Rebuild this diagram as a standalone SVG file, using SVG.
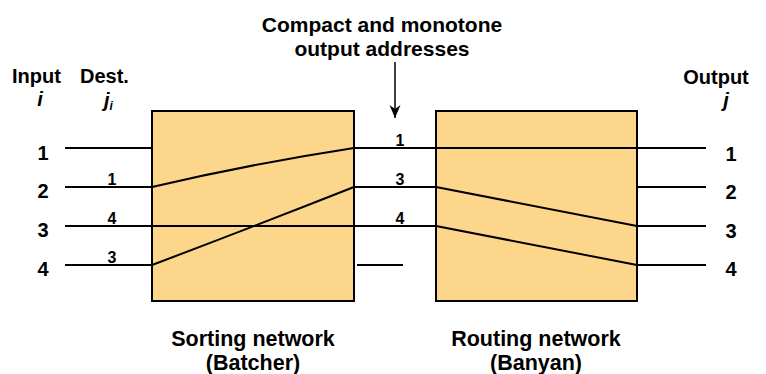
<svg xmlns="http://www.w3.org/2000/svg" width="766" height="374" viewBox="0 0 766 374">
<style>
text{font-family:"Liberation Sans",Arial,sans-serif;font-weight:bold;fill:#000}
.big{font-size:20px}
.ttl{font-size:21px}
.bot{font-size:21.5px}
.sm{font-size:16px}
.box{fill:#fcd68a;stroke:#000;stroke-width:2}
.w{stroke:#000;stroke-width:2;fill:none}
</style>
<defs><marker id="ah" markerWidth="14" markerHeight="12" refX="13" refY="6" orient="auto" markerUnits="userSpaceOnUse"><path d="M0,0.5 L13,6 L0,11.5 L4,6 Z" fill="#000"/></marker></defs>
<rect width="766" height="374" fill="#fff"/>
<g id="sorter"><rect class="box" x="152" y="111" width="202" height="190"/></g>
<g id="router"><rect class="box" x="436" y="111" width="201" height="190"/></g>
<g id="connectors">
<line class="w" x1="65" y1="148" x2="152" y2="148"/>
<line class="w" x1="65" y1="187" x2="152" y2="187"/>
<line class="w" x1="65" y1="226" x2="436" y2="226"/>
<line class="w" x1="65" y1="265" x2="152" y2="265"/>
<path class="w" d="M152,187 Q250,164 354,148"/>
<path class="w" d="M152,265 Q250,228 354,187"/>
<line class="w" x1="354" y1="148" x2="706" y2="148"/>
<line class="w" x1="354" y1="187" x2="436" y2="187"/>
<line class="w" x1="357" y1="265" x2="403" y2="265"/>
<line class="w" x1="436" y1="187" x2="637" y2="226"/>
<line class="w" x1="436" y1="226" x2="637" y2="265"/>
<line class="w" x1="637" y1="187" x2="706" y2="187"/>
<line class="w" x1="637" y1="226" x2="706" y2="226"/>
<line class="w" x1="637" y1="265" x2="706" y2="265"/>
<line x1="395" y1="62" x2="395" y2="118" stroke="#000" stroke-width="1.5" marker-end="url(#ah)"/>
</g>
<g id="labels">
<text class="ttl" x="382" y="32" text-anchor="middle">Compact and monotone</text>
<text class="ttl" x="382" y="56" text-anchor="middle">output addresses</text>
<text class="big" x="12" y="83">Input</text>
<text class="big" x="40" y="106" text-anchor="middle" font-style="italic">i</text>
<text class="big" x="80" y="83">Dest.</text>
<text class="big" x="104" y="107" font-style="italic">j<tspan font-size="12" dy="3">i</tspan></text>
<text class="big" x="716" y="84" text-anchor="middle">Output</text>
<text class="big" x="726" y="107" text-anchor="middle" font-style="italic">j</text>
<text class="big" x="43" y="160" text-anchor="middle">1</text>
<text class="big" x="43" y="198" text-anchor="middle">2</text>
<text class="big" x="43" y="237" text-anchor="middle">3</text>
<text class="big" x="43" y="276" text-anchor="middle">4</text>
<text class="big" x="731" y="161" text-anchor="middle">1</text>
<text class="big" x="731" y="199" text-anchor="middle">2</text>
<text class="big" x="731" y="238" text-anchor="middle">3</text>
<text class="big" x="731" y="276" text-anchor="middle">4</text>
<text class="sm" x="112" y="185" text-anchor="middle">1</text>
<text class="sm" x="112" y="224" text-anchor="middle">4</text>
<text class="sm" x="112" y="263" text-anchor="middle">3</text>
<text class="sm" x="400" y="146" text-anchor="middle">1</text>
<text class="sm" x="400" y="185" text-anchor="middle">3</text>
<text class="sm" x="400" y="224" text-anchor="middle">4</text>
<text class="bot" x="253" y="346" text-anchor="middle">Sorting network</text>
<text class="bot" x="253" y="370" text-anchor="middle">(Batcher)</text>
<text class="bot" x="536" y="346" text-anchor="middle">Routing network</text>
<text class="bot" x="536" y="370" text-anchor="middle">(Banyan)</text>
</g>
</svg>
